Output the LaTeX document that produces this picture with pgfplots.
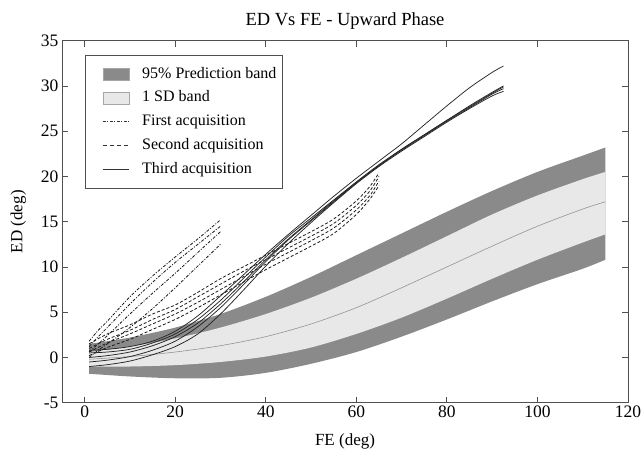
\documentclass[border=0pt]{standalone}
\usepackage{fontspec}
\setmainfont{Liberation Serif}
\usepackage{pgfplots}
\pgfplotsset{compat=1.18}
\usepgfplotslibrary{fillbetween}
\definecolor{darkband}{HTML}{8A8A8A}
\definecolor{lightband}{HTML}{E8E8E8}
\definecolor{axgray}{HTML}{505050}
\newcommand\myfont{\fontsize{16}{19}\selectfont}
\newcommand\tickfont{\fontsize{17.5}{20}\selectfont}
\newcommand\labfont{\fontsize{17}{20}\selectfont}
\newcommand\titfont{\fontsize{18.5}{22}\selectfont}
\begin{document}
\begin{tikzpicture}
\begin{axis}[
  scale only axis, width=566pt, height=362pt,
  xmin=-5, xmax=120, ymin=-5, ymax=35,
  xtick={0,20,...,120}, ytick={-5,0,...,35},
  tick align=inside, major tick length=6pt,
  tick style={axgray, line width=0.8pt},
  axis line style={axgray, line width=0.9pt},
  /pgf/number format/assume math mode=true,
  tick label style={font=\tickfont},
  label style={font=\labfont},
  title style={font=\titfont, yshift=2pt},
  title={ED Vs FE - Upward Phase},
  xlabel={FE (deg)}, ylabel={ED (deg)},
  xlabel style={yshift=-9pt},
  ylabel style={yshift=8pt},
  legend style={at={(0,1)}, anchor=north west, xshift=23pt, yshift=-14pt,
    draw=axgray, line width=0.8pt, font=\myfont, inner xsep=6pt, inner ysep=12pt,
    nodes={inner sep=0pt, text height=11pt, text depth=3pt},
    row sep=9.8pt, column sep=13pt, legend cell align=left},
]
% band boundaries
\addplot[draw=none, smooth, name path=dtop, forget plot] coordinates {
(1,1.5)(10,2.2)(20,3.3)(30,4.8)(40,6.7)(50,8.9)(60,11.3)(70,13.7)(80,16.1)(90,18.4)(100,20.5)(110,22.3)(115,23.2)};
\addplot[draw=none, smooth, name path=ltop, forget plot] coordinates {
(1,0.6)(10,1.2)(20,2.1)(30,3.3)(40,4.8)(50,6.6)(60,8.7)(70,11.0)(80,13.4)(90,15.8)(100,17.9)(110,19.7)(115,20.5)};
\addplot[draw=none, smooth, name path=lbot, forget plot] coordinates {
(1,-1.0)(10,-1.0)(20,-0.85)(30,-0.5)(40,0.1)(50,1.1)(60,2.6)(70,4.4)(80,6.5)(90,8.7)(100,10.8)(110,12.7)(115,13.6)};
\addplot[draw=none, smooth, name path=dbot, forget plot] coordinates {
(1,-1.8)(10,-2.1)(20,-2.3)(30,-2.25)(40,-1.7)(50,-0.7)(60,0.6)(70,2.3)(80,4.2)(90,6.2)(100,8.1)(110,9.8)(115,10.8)};
\addplot[darkband, forget plot] fill between[of=dtop and dbot];
\addplot[lightband, forget plot] fill between[of=ltop and lbot];
\addplot[color=gray!85, line width=0.6pt, smooth, forget plot] coordinates {
(1,-0.2)(10,0.1)(20,0.6)(30,1.3)(40,2.3)(50,3.7)(60,5.5)(70,7.7)(80,10.0)(90,12.3)(100,14.5)(110,16.4)(115,17.2)};
% first acquisition (dash-dot)
\pgfplotsset{acqA/.style={black!90, line width=0.8pt, smooth, forget plot, dash pattern=on 3pt off 1.5pt on 1pt off 1.5pt}}
\addplot[acqA] coordinates {(1,1.8)(3,3.0)(5,4.0)(10,6.7)(15,9.0)(20,11.1)(25,13.1)(30,15.2)};
\addplot[acqA] coordinates {(1,1.2)(3,2.3)(5,3.3)(10,5.9)(15,8.3)(20,10.5)(25,12.5)(30,14.5)};
\addplot[acqA] coordinates {(1,0.6)(3,1.5)(5,2.4)(10,4.8)(15,7.1)(20,9.3)(25,11.6)(30,13.9)};
\addplot[acqA] coordinates {(1,0.0)(3,0.8)(5,1.5)(10,3.3)(15,5.4)(20,7.7)(25,10.1)(30,12.5)};
% second acquisition (dashed)
\pgfplotsset{acqB/.style={black!90, line width=0.8pt, smooth, forget plot, dash pattern=on 3pt off 2pt}}
\addplot[acqB] coordinates {(1,1.5)(5,2.6)(10,3.6)(15,4.8)(20,5.8)(25,7.2)(30,8.7)(35,10.0)(40,11.3)(45,12.6)(50,13.9)(55,15.3)(60,17.3)(63,18.9)(65,20.4)};
\addplot[acqB] coordinates {(1,1.0)(5,2.0)(10,3.0)(15,4.2)(20,5.3)(25,6.7)(30,8.1)(35,9.5)(40,10.8)(45,12.1)(50,13.4)(55,14.8)(60,16.8)(63,18.4)(65,20.0)};
\addplot[acqB] coordinates {(1,0.6)(5,1.6)(10,2.6)(15,3.7)(20,4.8)(25,6.1)(30,7.5)(35,8.9)(40,10.3)(45,11.6)(50,12.9)(55,14.3)(60,16.3)(63,17.9)(65,19.5)};
\addplot[acqB] coordinates {(1,0.2)(5,1.1)(10,2.0)(15,3.1)(20,4.2)(25,5.5)(30,6.9)(35,8.3)(40,9.7)(45,11.0)(50,12.3)(55,13.7)(60,15.8)(63,17.5)(65,19.0)};
% third acquisition (solid)
\pgfplotsset{acqC/.style={black!85, line width=0.75pt, smooth, forget plot}}
\addplot[acqC] coordinates {(1,0.8)(5,0.9)(10,1.2)(15,1.8)(20,2.9)(25,4.6)(30,6.8)(35,9.1)(40,11.4)(45,13.6)(50,15.7)(55,17.8)(60,19.8)(65,21.7)(70,23.6)(75,25.7)(80,27.8)(85,29.8)(90,31.5)(92.5,32.2)};
\addplot[acqC] coordinates {(1,0.5)(5,0.6)(10,0.9)(15,1.6)(20,2.6)(25,4.2)(30,6.3)(35,8.7)(40,11.1)(45,13.4)(50,15.4)(55,17.4)(60,19.4)(65,21.3)(70,23.0)(75,24.6)(80,26.2)(85,27.7)(90,29.2)(92.5,29.9)};
\addplot[acqC] coordinates {(1,0.0)(5,0.2)(10,0.6)(15,1.3)(20,2.3)(25,3.8)(30,5.9)(35,8.3)(40,10.8)(45,13.1)(50,15.2)(55,17.3)(60,19.3)(65,21.2)(70,22.9)(75,24.5)(80,26.1)(85,27.6)(90,29.1)(92.5,29.7)};
\addplot[acqC] coordinates {(1,-0.5)(5,-0.3)(10,0.1)(15,0.8)(20,1.8)(25,3.4)(30,5.5)(35,8.0)(40,10.6)(45,13.0)(50,15.1)(55,17.2)(60,19.3)(65,21.2)(70,23.0)(75,24.6)(80,26.2)(85,27.8)(90,29.3)(92.5,30.0)};
\addplot[acqC] coordinates {(1,-1.0)(5,-0.8)(10,-0.4)(15,0.3)(20,1.2)(25,2.6)(30,4.8)(35,7.4)(40,10.1)(45,12.6)(50,14.9)(55,17.1)(60,19.2)(65,21.1)(70,22.8)(75,24.4)(80,26.0)(85,27.5)(90,28.9)(92.5,29.4)};
% legend
\addlegendimage{legend image code/.code={\path (0pt,0pt); \draw[fill=darkband, draw=gray!70, line width=0.6pt] (11pt,-6pt) rectangle (37pt,6pt);}}
\addlegendentry{95\% Prediction band}
\addlegendimage{legend image code/.code={\path (0pt,0pt); \draw[fill=lightband, draw=gray!70, line width=0.6pt] (11pt,-6pt) rectangle (37pt,6pt);}}
\addlegendentry{1 SD band}
\addlegendimage{legend image code/.code={\path (0pt,0pt); \draw[black!80, line width=0.7pt, dash pattern=on 3pt off 1.5pt on 1pt off 1.5pt] (11pt,0pt) -- (37pt,0pt);}}
\addlegendentry{First acquisition}
\addlegendimage{legend image code/.code={\path (0pt,0pt); \draw[black!80, line width=0.7pt, dash pattern=on 4pt off 3pt] (11pt,0pt) -- (37pt,0pt);}}
\addlegendentry{Second acquisition}
\addlegendimage{legend image code/.code={\path (0pt,0pt); \draw[black!80, line width=0.8pt] (11pt,0pt) -- (37pt,0pt);}}
\addlegendentry{Third acquisition}
\end{axis}
\pgfresetboundingbox
\path (current axis.south west) ++(-62pt,-50.3pt) rectangle ++(644pt,453pt);
\end{tikzpicture}
\end{document}
